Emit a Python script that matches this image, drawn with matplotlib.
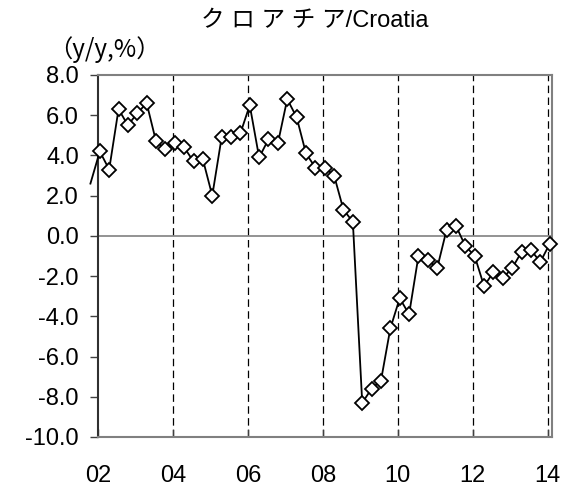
import matplotlib
matplotlib.use("Agg")
import matplotlib.pyplot as plt
from matplotlib.patches import Rectangle
import numpy as np

# Quarterly y/y growth, starting 2001Q4 (only the line to it is visible)
values = [2.6,
          4.2, 3.3, 6.3, 5.5, 6.1, 6.6, 4.7, 4.3,
          4.6, 4.4, 3.7, 3.8, 2.0, 4.9, 4.9, 5.1,
          6.5, 3.9, 4.8, 4.6, 6.8, 5.9, 4.1, 3.4,
          3.4, 3.0, 1.3, 0.7, -8.3, -7.6, -7.2, -4.6,
          -3.1, -3.9, -1.0, -1.2, -1.6, 0.3, 0.5, -0.5,
          -1.0, -2.5, -1.8, -2.1, -1.6, -0.8, -0.7, -1.3,
          -0.4]
first_period = 2001.80
step = 0.25
x_ticks = [2002, 2004, 2006, 2008, 2010, 2012, 2014]
x_labels = ["02", "04", "06", "08", "10", "12", "14"]
y_ticks = [8.0, 6.0, 4.0, 2.0, 0.0, -2.0, -4.0, -6.0, -8.0, -10.0]

x = first_period + step * np.arange(len(values))

plt.rcParams['font.family'] = ['Liberation Sans', 'Noto Sans CJK JP', 'DejaVu Sans']

fig = plt.figure(figsize=(5.76, 4.87), dpi=100)
ax = fig.add_axes([0.170, 0.1027, 0.788, 0.7433])

ax.set_xlim(2002, 2014.107)
ax.set_ylim(-10, 8)

for xv in x_ticks[1:]:
    ax.axvline(xv, color='black', lw=0.9, ls=(0, (6, 3.5)), zorder=1)
ax.axhline(0, color='#808080', lw=1.2, zorder=1)

line, = ax.plot(x, values, color='black', lw=1.3, marker='D', markersize=7,
                markerfacecolor='white', markeredgecolor='black',
                markeredgewidth=1.3, markevery=list(range(1, len(values))),
                zorder=3, clip_on=False)
clip = Rectangle((-0.014, -0.05), 1.06, 1.1, transform=ax.transAxes,
                 facecolor='none', edgecolor='none')
ax.add_patch(clip)
line.set_clip_path(clip)

ax.set_xticks(x_ticks)
ax.set_xticklabels(x_labels)
ax.set_yticks(y_ticks)
ax.set_yticklabels([f"{v:.1f}" for v in y_ticks])

ax.tick_params(axis='y', direction='out', length=5.8, width=1, labelsize=17, pad=8, color='#404040')
ax.tick_params(axis='x', direction='in', length=6, width=1, labelsize=17, pad=20, color='#404040')

for s in ['top', 'right', 'bottom']:
    ax.spines[s].set_color('#808080')
    ax.spines[s].set_linewidth(1.5)
ax.spines['left'].set_color('#303030')
ax.spines['left'].set_linewidth(1.5)

fig.text(0.547, 0.957, "ク ロ ア チ ア/Croatia", ha='center', va='center', fontsize=17)
fig.text(0.181, 0.899, "（y/y,%）", ha='center', va='center', fontsize=17.5,
         family=['Noto Sans CJK JP'])

fig.savefig("out.png", dpi=100)
